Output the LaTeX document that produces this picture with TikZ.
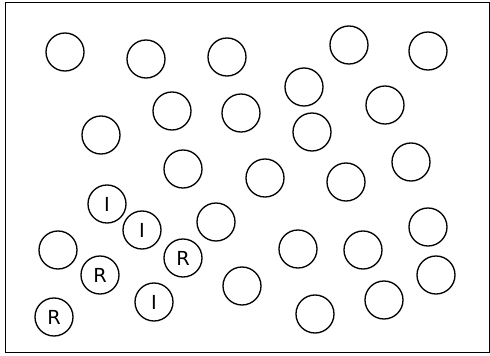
\documentclass[tikz,border=0pt]{standalone}
\usepackage{fontspec}
\setmainfont{DejaVu Sans}
\tikzset{every picture/.style={line width=0.75pt}}
\tikzset{ball/.style={draw,circle,line width=1pt,minimum size=28.5pt,inner sep=0pt,font=\fontsize{14.5}{14.5}\selectfont}}

\begin{document}
\begin{tikzpicture}[x=0.75pt,y=0.75pt,yscale=-1,xscale=1]
\useasboundingbox (0,0) rectangle (490,356);

%Shape: Rectangle [id:frame]
\draw (5,3) -- (489,3) -- (489,353) -- (5,353) -- cycle ;

%Circles [id:row1]
\draw (65,52) node [ball] (b1) {};
\draw (146,59) node [ball] (b2) {};
\draw (227,57) node [ball] (b3) {};
\draw (349,45) node [ball] (b4) {};
\draw (428,51) node [ball] (b5) {};
%Circles [id:row2]
\draw (304,87) node [ball] (b6) {};
\draw (385,105) node [ball] (b7) {};
\draw (172,111) node [ball] (b8) {};
\draw (241,113) node [ball] (b9) {};
\draw (101,135) node [ball] (b10) {};
\draw (312,132) node [ball] (b11) {};
%Circles [id:row3]
\draw (183,169) node [ball] (b12) {};
\draw (265,178) node [ball] (b13) {};
\draw (346,182) node [ball] (b14) {};
\draw (411,162) node [ball] (b15) {};
%Circles [id:row4]
\draw (216,222) node [ball] (b16) {};
\draw (58,250) node [ball] (b17) {};
\draw (298,249) node [ball] (b18) {};
\draw (363,250) node [ball] (b19) {};
\draw (428,227) node [ball] (b20) {};
\draw (436,275) node [ball] (b21) {};
\draw (242,286) node [ball] (b22) {};
\draw (315,314) node [ball] (b23) {};
\draw (384,300) node [ball] (b24) {};

% Text Node
\draw (107,204) node [ball] (i1) {I};
% Text Node
\draw (142,230) node [ball] (i2) {I};
% Text Node
\draw (154,302) node [ball] (i3) {I};
% Text Node
\draw (183,258) node [ball] (r1) {R};
% Text Node
\draw (100,275) node [ball] (r2) {R};
% Text Node
\draw (54,317) node [ball] (r3) {R};

\end{tikzpicture}
\end{document}
